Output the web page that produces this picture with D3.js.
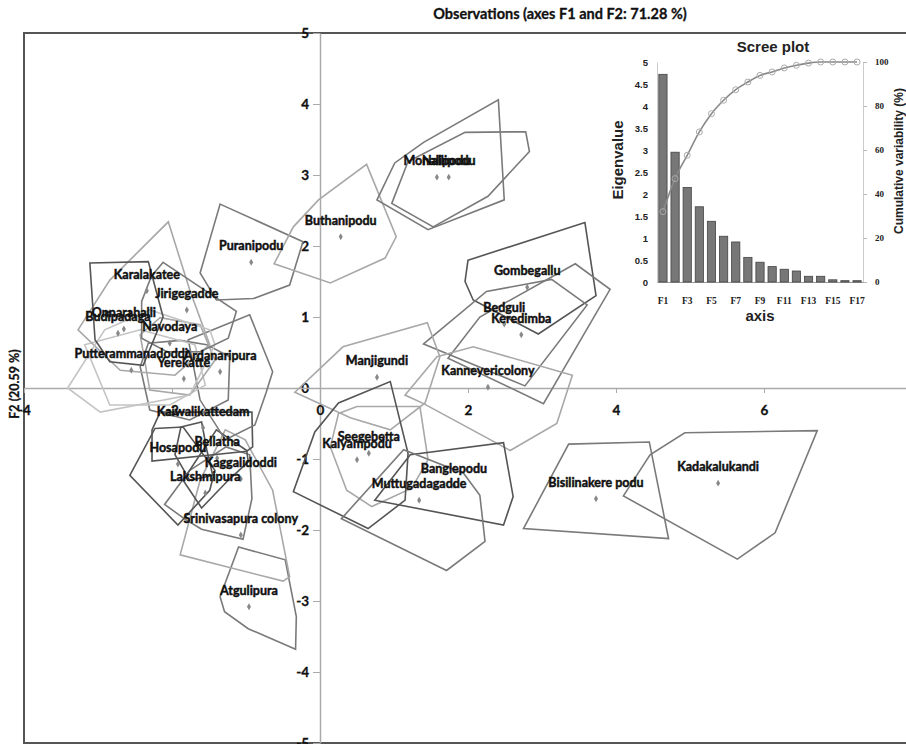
<!DOCTYPE html>
<html><head><meta charset="utf-8">
<script src="https://cdn.jsdelivr.net/npm/d3@7"></script>
<style>body{margin:0;background:#fff}svg{display:block}</style>
</head><body>
<script>
// ---------- DATA ----------
const obsNames = ["Puranipodu","Buthanipodu","Monalipodu","Nallipodu","Gombegallu","Bedguli","Keredimba","Kanneyericolony","Manjigundi","Seegebetta","Kalyampodu","Banglepodu","Muttugadagadde","Bisilinakere podu","Kadakalukandi","Atgulipura","Srinivasapura colony","Lakshmipura","Kaggalidoddi","Bellatha","Hosapodu","Kaiwalikattedam","Yerekatte","Ardanaripura","Putterammanadoddi","Navodaya","Onnarahalli","Budipadaga","Jirigegadde","Karalakatee"];
const obsF1 = [-0.93,0.28,1.58,1.74,2.80,2.49,2.72,2.27,0.77,0.66,0.50,1.81,1.34,3.73,5.38,-0.96,-1.07,-1.55,-1.07,-1.39,-1.92,-1.58,-1.84,-1.35,-2.55,-2.03,-2.65,-2.73,-1.80,-2.34];
const obsF2 = [1.77,2.13,2.97,2.97,1.42,0.90,0.75,0.01,0.15,-0.92,-1.01,-1.37,-1.58,-1.56,-1.34,-3.08,-2.07,-1.48,-1.28,-0.99,-1.07,-0.56,0.13,0.23,0.25,0.63,0.83,0.77,1.10,1.37];
const hullVertices = [
 [[-1.35,2.59],[-0.23,2.06],[-0.41,1.45],[-0.90,1.26],[-1.40,1.24],[-1.62,1.62]],
 [[0.63,3.15],[1.03,2.13],[0.88,1.83],[0.14,1.48],[-0.62,1.75],[-0.36,2.27],[-0.02,2.65]],
 [[0.77,2.65],[1.01,3.17],[1.40,3.46],[2.41,4.06],[2.49,2.65],[1.46,2.23]],
 [[0.97,2.60],[1.19,3.19],[1.96,3.60],[2.78,3.61],[2.83,3.33],[2.27,2.70],[1.53,2.27]],
 [[2.00,1.80],[3.58,2.33],[3.73,1.30],[2.95,0.76],[2.07,1.24],[1.96,1.50]],
 [[1.40,0.62],[2.25,1.36],[3.13,1.53],[3.61,1.17],[2.77,0.03]],
 [[1.73,0.42],[2.16,1.00],[3.45,1.75],[3.92,1.39],[3.02,-0.22]],
 [[1.15,-0.10],[1.58,0.44],[2.07,0.58],[3.41,0.18],[3.20,-0.50],[2.57,-0.88],[1.40,-0.22]],
 [[-0.34,-0.06],[0.31,0.58],[1.45,0.92],[1.62,0.44],[1.42,-0.21],[0.95,-0.59],[0.41,-0.42]],
 [[0.25,-0.36],[0.50,-0.26],[1.35,-0.26],[1.46,-1.01],[1.24,-1.41],[0.70,-1.67],[0.36,-1.44],[0.14,-0.83]],
 [[0.95,0.09],[1.19,-0.92],[1.15,-1.58],[0.65,-1.98],[-0.36,-1.46],[-0.07,-0.62],[0.25,-0.21]],
 [[0.74,-1.58],[1.22,-0.94],[2.48,-0.77],[2.61,-1.53],[2.48,-1.93]],
 [[0.29,-1.84],[1.13,-0.87],[1.94,-1.20],[2.16,-1.51],[2.23,-2.16],[1.71,-2.57]],
 [[3.36,-0.79],[4.45,-0.76],[4.71,-2.12],[2.75,-1.98]],
 [[4.10,-1.52],[4.46,-0.94],[4.93,-0.63],[6.72,-0.60],[6.15,-2.04],[5.64,-2.41]],
 [[-1.10,-2.24],[-0.47,-2.42],[-0.32,-3.22],[-0.33,-3.68],[-0.97,-3.39],[-1.29,-3.15],[-1.35,-2.94]],
 [[-1.89,-2.35],[-1.62,-1.30],[-1.28,-0.59],[-1.01,-0.73],[-0.64,-1.44],[-0.41,-2.66],[-0.50,-2.72]],
 [[-2.10,-1.64],[-1.82,-1.85],[-1.60,-1.99],[-1.04,-2.13],[-0.92,-1.56],[-0.95,-0.94],[-1.27,-0.83],[-1.76,-1.16]],
 [[-1.40,-0.59],[-0.99,-0.88],[-0.97,-1.04],[-1.24,-1.30],[-1.60,-1.69],[-1.85,-1.30]],
 [[-1.88,-0.55],[-1.60,-0.48],[-1.53,-0.87],[-1.45,-1.23],[-1.76,-1.30],[-1.96,-0.94]],
 [[-2.57,-1.23],[-2.23,-0.57],[-1.85,-0.55],[-1.42,-1.16],[-1.49,-1.44],[-1.92,-1.93]],
 [[-2.16,-0.34],[-0.92,-0.34],[-0.91,-0.83],[-0.99,-0.89],[-2.27,-1.03],[-2.27,-0.59]],
 [[-2.43,0.30],[-2.32,0.63],[-1.89,0.67],[-1.53,0.61],[-1.22,0.44],[-1.24,-0.17],[-1.76,-0.45],[-2.30,-0.31]],
 [[-1.78,0.68],[-0.95,1.03],[-0.64,0.23],[-0.73,-0.07],[-0.88,-0.52],[-1.28,-0.73],[-1.62,-0.17]],
 [[-3.18,0.61],[-2.43,0.82],[-1.69,0.61],[-1.55,0.04],[-2.03,-0.24],[-2.84,-0.24]],
 [[-2.43,0.75],[-2.16,0.99],[-1.62,0.89],[-1.42,0.39],[-1.76,-0.10],[-2.30,-0.03]],
 [[-2.05,2.34],[-1.76,1.38],[-1.49,0.61],[-1.96,0.18],[-2.70,0.25],[-3.27,0.82],[-2.84,1.52]],
 [[-3.41,0.00],[-2.91,0.82],[-2.30,1.10],[-1.49,0.82],[-1.42,0.61],[-1.76,-0.10],[-2.97,-0.34]],
 [[-2.12,1.77],[-1.13,1.08],[-1.24,0.70],[-1.62,0.51],[-2.07,0.51],[-2.41,0.70],[-2.41,1.22],[-2.28,1.57]],
 [[-3.11,1.76],[-2.32,1.78],[-2.12,1.00],[-2.39,0.32],[-2.84,0.37],[-3.04,0.68]]
];
const hullShade = ["mid","light","mid","mid","dark","mid","mid","light","light","light","dark","dark","mid","mid","mid","mid","light","mid","dark","dark","dark","dark","mid","mid","lighter","light","light","lighter","mid","dark"];
const xTicks = [-4,-2,0,2,4,6];
const yTicks = [-5,-4,-3,-2,-1,0,1,2,3,4,5];

const screeAxes = ["F1","F2","F3","F4","F5","F6","F7","F8","F9","F10","F11","F12","F13","F14","F15","F16","F17"];
const eigenvalues = [4.72,2.95,2.15,1.71,1.38,1.04,0.91,0.56,0.45,0.35,0.29,0.25,0.13,0.13,0.05,0.03,0.03];
const cumulative = [32,47,57.6,68.2,76.5,82.6,87.4,90.9,93.9,95.5,97.3,98.5,99.5,100,100,100,100];
const eigenTicks = [0,0.5,1,1.5,2,2.5,3,3.5,4,4.5,5];
const cumTicks = [0,20,40,60,80,100];

// ---------- CHART ----------
const W = 906, H = 744;
const shadeColor = {dark:"#555", mid:"#7a7a7a", light:"#a8a8a8", lighter:"#c4c4c4"};
const labelFont = "Lato,'DejaVu Sans Condensed',sans-serif";
const svg = d3.select("body").append("svg").attr("width", W).attr("height", H);

const x = d3.scaleLinear().domain([-4, 8]).range([24, 912]);
const y = d3.scaleLinear().domain([-5, 5]).range([743, 33]);

// frame
svg.append("rect").attr("x", x(-4)).attr("y", y(5)).attr("width", x(8)-x(-4)).attr("height", y(-5)-y(5))
  .attr("fill", "none").attr("stroke", "#555").attr("stroke-width", 2);

// axes
const yAxis = svg.append("g").attr("transform", `translate(${x(0)},0)`)
  .call(d3.axisLeft(y).tickValues(yTicks).tickSize(7).tickSizeOuter(0).tickPadding(4).tickFormat(d => String(d)));
const xAxis = svg.append("g").attr("transform", `translate(0,${y(0)})`)
  .call(d3.axisBottom(x).tickValues(xTicks).tickSize(5).tickSizeOuter(0).tickPadding(12).tickFormat(d => String(d)));
[xAxis, yAxis].forEach(g => {
  g.select(".domain").attr("stroke", "#aaa").attr("stroke-width", 1.5);
  g.selectAll(".tick line").attr("stroke", "#aaa");
  g.selectAll(".tick text").attr("font-family", labelFont).attr("font-weight", "bold").attr("font-size", 13.5)
    .attr("fill", "#111").attr("stroke", "#111").attr("stroke-width", 0.3);
});

// hulls
const line = d3.line().x(d => x(d[0])).y(d => y(d[1])).curve(d3.curveLinearClosed);
svg.append("g").selectAll("path").data(hullVertices).join("path")
  .attr("d", line).attr("fill", "none")
  .attr("stroke", (d, i) => shadeColor[hullShade[i]]).attr("stroke-width", 1.6);

// points
svg.append("g").selectAll("path").data(obsNames).join("path")
  .attr("transform", (d, i) => `translate(${x(obsF1[i])},${y(obsF2[i])})`)
  .attr("d", d3.symbol(d3.symbolDiamond, 14)).attr("fill", "#888");

// labels
svg.append("g").selectAll("text").data(obsNames).join("text")
  .attr("x", (d, i) => x(obsF1[i])).attr("y", (d, i) => y(obsF2[i]) - 12)
  .attr("text-anchor", "middle").attr("font-family", labelFont).attr("font-weight", "bold")
  .attr("font-size", 12.5).attr("fill", "#111").attr("stroke", "#111").attr("stroke-width", 0.45).text(d => d);

// titles
svg.append("text").attr("x", 560).attr("y", 19).attr("text-anchor", "middle")
  .attr("font-family", labelFont).attr("font-weight", "bold").attr("font-size", 14.5).attr("fill", "#111")
  .attr("stroke", "#111").attr("stroke-width", 0.3)
  .text("Observations (axes F1 and F2: 71.28 %)");
svg.append("text").attr("transform", "translate(19,384) rotate(-90)").attr("text-anchor", "middle")
  .attr("font-family", labelFont).attr("font-weight", "bold").attr("font-size", 12.5).attr("fill", "#111")
  .attr("stroke", "#111").attr("stroke-width", 0.3)
  .text("F2 (20.59 %)");

// ---------- SCREE INSET ----------
const sf = "'Liberation Sans',Arial,sans-serif";
const sx = d3.scaleBand().domain(screeAxes).range([657, 863]).paddingInner(0.32).paddingOuter(0.15);
const sy = d3.scaleLinear().domain([0, 5]).range([282, 62]);
const sc = d3.scaleLinear().domain([0, 100]).range([282, 62]);
const sg = svg.append("g");

const la = sg.append("g").attr("transform", "translate(657,0)")
  .call(d3.axisLeft(sy).tickValues(eigenTicks).tickSize(0).tickPadding(9).tickFormat(d => d));
la.select(".domain").attr("stroke", "#ccc");
la.selectAll("text").attr("font-family", sf).attr("font-weight", "bold").attr("font-size", 9.5).attr("fill", "#222");

const ra = sg.append("g").attr("transform", "translate(863,0)")
  .call(d3.axisRight(sc).tickValues(cumTicks).tickSize(4).tickPadding(8).tickFormat(d => d));
ra.select(".domain").attr("stroke", "#ccc");
ra.selectAll(".tick line").attr("stroke", "#bbb");
ra.selectAll("text").attr("font-family", "'Liberation Serif',serif").attr("font-weight", "bold").attr("font-size", 9).attr("fill", "#222");

const ba = sg.append("g").attr("transform", "translate(0,282)")
  .call(d3.axisBottom(sx).tickValues(screeAxes.filter((d, i) => i % 2 === 0)).tickSize(0).tickPadding(15).tickSizeOuter(0));
ba.select(".domain").attr("stroke", "#999");
ba.selectAll("text").attr("font-family", "'Liberation Serif',serif").attr("font-weight", "bold").attr("font-size", 9.5).attr("fill", "#222");

sg.append("g").selectAll("rect").data(eigenvalues).join("rect")
  .attr("x", (d, i) => sx(screeAxes[i])).attr("width", sx.bandwidth())
  .attr("y", d => sy(d)).attr("height", d => sy(0) - sy(d))
  .attr("fill", "#777").attr("stroke", "#444").attr("stroke-width", 0.8);

const cl = d3.line().x((d, i) => sx(screeAxes[i]) + sx.bandwidth() / 2).y(d => sc(d)).curve(d3.curveMonotoneX);
sg.append("path").datum(cumulative).attr("d", cl).attr("fill", "none").attr("stroke", "#888").attr("stroke-width", 1.6);
sg.append("g").selectAll("circle").data(cumulative).join("circle")
  .attr("cx", (d, i) => sx(screeAxes[i]) + sx.bandwidth() / 2).attr("cy", d => sc(d)).attr("r", 3)
  .attr("fill", "none").attr("stroke", "#aaa").attr("stroke-width", 1);

sg.append("text").attr("x", 773).attr("y", 52).attr("text-anchor", "middle")
  .attr("font-family", sf).attr("font-weight", "bold").attr("font-size", 15).attr("fill", "#222").text("Scree plot");
sg.append("text").attr("x", 760).attr("y", 321).attr("text-anchor", "middle")
  .attr("font-family", sf).attr("font-weight", "bold").attr("font-size", 15).attr("fill", "#222").text("axis");
sg.append("text").attr("transform", "translate(623,160) rotate(-90)").attr("text-anchor", "middle")
  .attr("font-family", sf).attr("font-weight", "bold").attr("font-size", 15).attr("fill", "#222").text("Eigenvalue");
sg.append("text").attr("transform", "translate(903,161) rotate(-90)").attr("text-anchor", "middle")
  .attr("font-family", sf).attr("font-weight", "bold").attr("font-size", 12).attr("fill", "#222").text("Cumulative variability (%)");
</script>
</body></html>
